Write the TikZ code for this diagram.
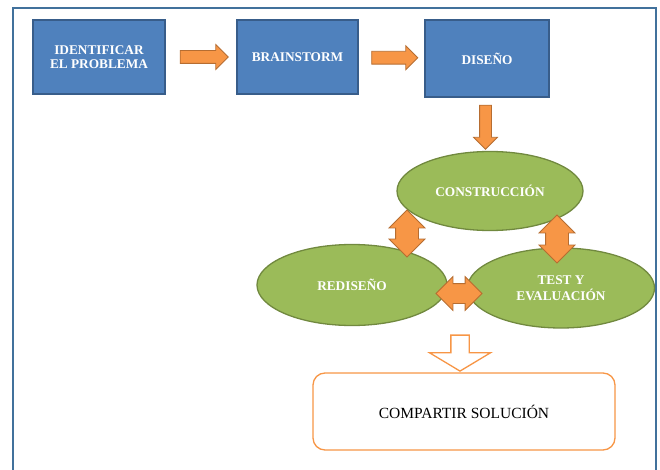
\documentclass[tikz,border=0pt]{standalone}
\usepackage{fontspec}
\setmainfont{Liberation Serif}
\usetikzlibrary{shapes,shapes.geometric,shapes.arrows,positioning,calc}

\definecolor{boxblue}{HTML}{4F81BD}
\definecolor{boxline}{HTML}{385D8A}
\definecolor{leafgreen}{HTML}{9BBB59}
\definecolor{leafline}{HTML}{71893F}
\definecolor{arrorange}{HTML}{F79646}
\definecolor{arrline}{HTML}{B66D31}
\definecolor{framecol}{HTML}{41719C}

\tikzset{
  stepbox/.style={rectangle, fill=boxblue, draw=boxline, line width=1.3pt,
    text=white, font=\bfseries\fontsize{13.3}{14}\selectfont, align=center, inner sep=0pt},
  phase/.style={ellipse, fill=leafgreen, draw=leafline, line width=1.3pt,
    text=white, font=\bfseries\fontsize{13.3}{16}\selectfont, align=center, inner sep=0pt},
  fatarrow/.style={single arrow, fill=arrorange, draw=arrline, line width=0.8pt,
    inner xsep=0pt, inner ysep=6pt, single arrow head extend=6pt},
  twoway/.style={double arrow, fill=arrorange, draw=arrline, line width=0.8pt,
    inner xsep=0pt, inner ysep=11pt, double arrow head extend=6.5pt},
  hollowarrow/.style={single arrow, fill=white, draw=arrorange, line width=1.3pt,
    inner xsep=0pt, inner ysep=8.5pt, single arrow head extend=21.5pt, single arrow tip angle=118}
}

\begin{document}
\begin{tikzpicture}[x=1pt, y=-1pt]

\useasboundingbox (0,0) rectangle (660,470);

% outer frame (open at the bottom)
\draw [framecol, line width=1.8pt] (13,472) -- (13,8) -- (656,8) -- (656,472);

% top row
\node [stepbox, minimum width=132, minimum height=74] (identificar) at (99,57) {IDENTIFICAR\\EL PROBLEMA};
\node [stepbox, minimum width=121, minimum height=74] (brainstorm) at (297.5,57) {BRAINSTORM};
\node [stepbox, minimum width=124, minimum height=77] (diseno) at (487,58.5) {DISEÑO};

% cycle
\node [phase, minimum width=186, minimum height=79] (construccion) at (490,191) {CONSTRUCCIÓN};
\node [phase, minimum width=190, minimum height=81] (rediseno) at (352,285) {REDISEÑO};
\node [phase, minimum width=187, minimum height=80] (test) at (561,288) {TEST Y\\EVALUACIÓN};

% last step
\node [draw=arrorange, line width=1.3pt, rounded corners=12pt, fill=white,
  minimum width=302, minimum height=77, font=\fontsize{15.5}{18}\selectfont]
  (compartir) at (464,411.5) {COMPARTIR SOLUCIÓN};

% arrows
\node [fatarrow, minimum height=48] (a1)
  at ($(identificar.east)!0.5!(brainstorm.west)$) {};
\node [fatarrow, minimum height=46, single arrow head extend=5.5pt] (a2)
  at ($(brainstorm.east)!0.5!(diseno.west)$) {};
\node [fatarrow, minimum height=44, inner ysep=5.5pt, rotate=-90] (a3)
  at ($(diseno.south)!0.5!(construccion.north)+(-3,0)$) {};

\node [twoway, minimum height=47, rotate=90] (c1) at (407,233.5) {};
\node [twoway, minimum height=48, rotate=90] (c2) at (557,239) {};
\node [twoway, minimum height=46, inner ysep=9.5pt, double arrow head extend=7pt] (c3) at (459,293.5) {};

\node [hollowarrow, minimum height=36, rotate=-90] (a4)
  at ($(compartir.north)+(-4,-22)$) {};

\end{tikzpicture}
\end{document}
